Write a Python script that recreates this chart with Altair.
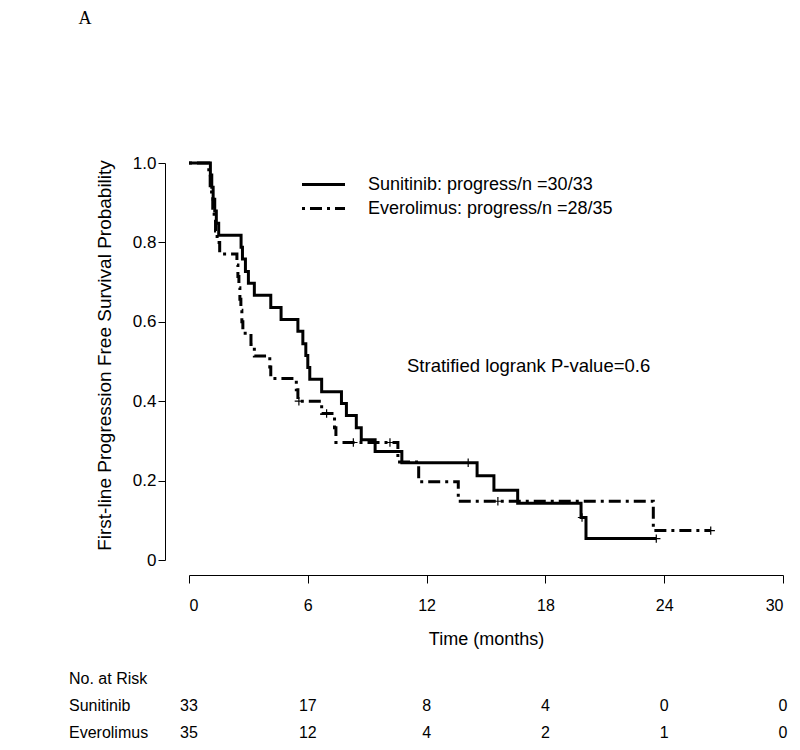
import altair as alt
import pandas as pd

# ---------------- data ----------------
groups = ["Sunitinib", "Everolimus"]
progress = ["30/33", "28/35"]

# Kaplan-Meier steps (time in months, survival after the step)
sun_t = [0, 1.08, 1.15, 1.22, 1.3, 1.38, 1.5, 2.63, 2.7, 2.85, 3.0, 3.3, 4.13, 4.65,
         5.5, 5.75, 5.9, 6.0, 6.1, 6.7, 7.7, 7.95, 8.45, 8.7, 9.4, 10.75, 14.55,
         15.4, 16.6, 19.8, 20.05, 23.6]
sun_s = [1.0, 0.970, 0.939, 0.909, 0.879, 0.848, 0.818, 0.788, 0.758, 0.727, 0.697,
         0.667, 0.636, 0.606, 0.576, 0.545, 0.515, 0.485, 0.455, 0.424, 0.394, 0.364,
         0.333, 0.303, 0.273, 0.245, 0.212, 0.176, 0.143, 0.107, 0.054, 0.054]

eve_t = [0, 1.0, 1.07, 1.14, 1.2, 1.27, 1.34, 1.42, 1.55, 2.42, 2.47, 2.52, 2.57,
         2.62, 2.67, 2.72, 3.13, 3.3, 4.08, 4.13, 5.42, 5.5, 6.7, 7.35, 7.42, 10.55,
         11.6, 13.6, 23.45, 26.35]
eve_s = [1.0, 0.971, 0.943, 0.914, 0.886, 0.857, 0.829, 0.800, 0.771, 0.743, 0.714,
         0.686, 0.657, 0.629, 0.600, 0.571, 0.543, 0.514, 0.486, 0.457, 0.429, 0.400,
         0.369, 0.333, 0.296, 0.247, 0.197, 0.148, 0.074, 0.074]

# censoring marks
sun_cens_t = [14.1, 19.85, 23.6]
sun_cens_s = [0.245, 0.107, 0.054]
eve_cens_t = [5.55, 6.95, 8.3, 10.15, 15.6, 26.35]
eve_cens_s = [0.400, 0.369, 0.296, 0.296, 0.148, 0.074]

# number at risk table
risk_times = [0, 6, 12, 18, 24, 30]
sun_risk = [33, 17, 8, 4, 0, 0]
eve_risk = [35, 12, 4, 2, 1, 0]
risk_rows = ["No. at Risk", "Sunitinib", "Everolimus"]

y_ticks = [0, 0.2, 0.4, 0.6, 0.8, 1.0]
pvalue_text = "Stratified logrank P-value=0.6"
panel_letter = "A"

# ---------------- tables ----------------
km_df = pd.concat([
    pd.DataFrame({"time": sun_t, "surv": sun_s, "group": groups[0]}),
    pd.DataFrame({"time": eve_t, "surv": eve_s, "group": groups[1]}),
])
cens_df = pd.concat([
    pd.DataFrame({"time": sun_cens_t, "surv": sun_cens_s, "group": groups[0]}),
    pd.DataFrame({"time": eve_cens_t, "surv": eve_cens_s, "group": groups[1]}),
])
risk_df = pd.concat([
    pd.DataFrame({"time": risk_times, "n": sun_risk, "row": risk_rows[1]}),
    pd.DataFrame({"time": risk_times, "n": eve_risk, "row": risk_rows[2]}),
])
row_df = pd.DataFrame({"row": risk_rows})

FONT = "Liberation Sans, Arial, sans-serif"

x_scale = alt.Scale(domain=[0, 30], nice=False, zero=False)
y_scale = alt.Scale(domain=[0, 1], nice=False)

x_axis = alt.Axis(values=risk_times, offset=15, tickSize=8, labelPadding=14,
                  labelFontSize=16, labelFont=FONT, title="Time (months)",
                  titleFontSize=18, titleFont=FONT, titleFontWeight="normal",
                  titlePadding=17, grid=False)
y_axis = alt.Axis(values=y_ticks, offset=24, tickSize=7, labelPadding=2,
                  labelFontSize=17, labelFont=FONT,
                  labelExpr="datum.value == 0 ? '0' : format(datum.value, '.1f')",
                  title="First-line Progression Free Survival Probability",
                  titleFontSize=19, titleFont=FONT, titleFontWeight="normal",
                  titlePadding=18, titleY=192, grid=False)

x_enc = alt.X("time:Q", scale=x_scale, axis=x_axis)

legend_expr = ("datum.label == '%s' ? '%s: progress/n =%s' : '%s: progress/n =%s'"
               % (groups[0], groups[0], progress[0], groups[1], progress[1]))

lines = alt.Chart(km_df).mark_line(interpolate="step-after", strokeWidth=3,
                                   color="black").encode(
    x=x_enc,
    y=alt.Y("surv:Q", scale=y_scale, axis=y_axis),
    strokeDash=alt.StrokeDash(
        "group:N",
        scale=alt.Scale(domain=groups, range=[[1, 0], [3, 5, 12, 5]]),
        legend=alt.Legend(title=None, orient="none", legendX=124, legendY=11,
                          symbolType="M-2.5,0H2.5", symbolSize=296,
                          symbolStrokeWidth=3, symbolStrokeColor="black",
                          labelFontSize=18, labelFont=FONT, labelColor="black",
                          labelOffset=34, rowPadding=4, labelLimit=500,
                          labelExpr=legend_expr),
    ),
)

cens = alt.Chart(cens_df).mark_point(shape="M-1,0H1M0,-1V1", size=70, filled=False,
                                     color="black", strokeWidth=1.2, opacity=1).encode(
    x=x_enc,
    y=alt.Y("surv:Q", scale=y_scale, axis=y_axis),
)

pval = alt.Chart(pd.DataFrame({"t": [pvalue_text]})).mark_text(
    align="left", baseline="middle", fontSize=18.5, font=FONT, color="black").encode(
    text="t:N", x=alt.value(218), y=alt.value(203))

letter = alt.Chart(pd.DataFrame({"t": [panel_letter]})).mark_text(
    align="center", baseline="top", fontSize=18,
    font="Liberation Serif, Times New Roman, serif", color="black").encode(
    text="t:N", x=alt.value(-104), y=alt.value(-153))

row_scale = alt.Scale(domain=risk_rows, range=[516, 570], padding=0)

risk_nums = alt.Chart(risk_df).mark_text(
    align="center", baseline="middle", fontSize=16, font=FONT, color="black").encode(
    x=x_enc,
    y=alt.Y("row:N", scale=row_scale, axis=None),
    text="n:Q")

risk_labels = alt.Chart(row_df).mark_text(
    align="left", baseline="middle", fontSize=16, font=FONT, color="black").encode(
    x=alt.value(-120),
    y=alt.Y("row:N", scale=row_scale, axis=None),
    text="row:N")

km_layer = alt.layer(lines, cens, pval, letter)
risk_layer = alt.layer(risk_nums, risk_labels)

chart = alt.layer(km_layer, risk_layer).resolve_scale(y="independent").properties(
    width=594, height=397,
    autosize=alt.AutoSizeParams(type="none"),
    padding={"left": 181, "top": 155, "right": 9, "bottom": 182},
).configure_view(stroke=None).configure_axis(
    domainColor="black", tickColor="black", labelColor="black", titleColor="black",
    domainWidth=1, tickWidth=1,
)

chart.save("out.html", embed_options={"renderer": "svg", "actions": False})
